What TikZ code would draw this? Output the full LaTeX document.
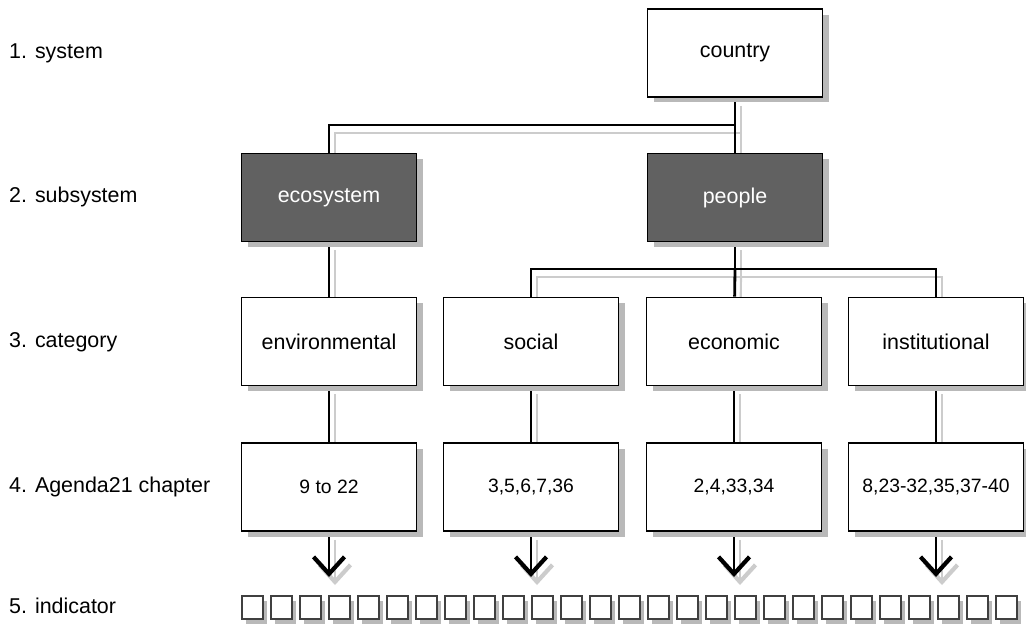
\documentclass[tikz,border=0pt]{standalone}
\usepackage{fontspec}
\setmainfont{Liberation Sans}
\usetikzlibrary{shadows,backgrounds,arrows.meta}

\tikzset{
  box/.style={draw, line width=0.9pt, fill=white, minimum width=3.5cm, minimum height=1.76cm,
    font=\fontsize{12.2}{14}\selectfont,
    drop shadow={shadow xshift=0.13cm, shadow yshift=-0.11cm, fill=gray!55, opacity=1}},
  dark/.style={box, fill=black!62, text=white},
  chap/.style={box, font=\fontsize{11}{13}\selectfont},
  ind/.style={draw=black!75, line width=0.8pt, fill=white, minimum width=0.42cm, minimum height=0.46cm,
    inner sep=0pt, drop shadow={shadow xshift=0.08cm, shadow yshift=-0.09cm, fill=gray!55, opacity=1}},
  level/.style={anchor=west, font=\fontsize{12.2}{14}\selectfont},
  conn/.style={line width=1.6pt, preaction={draw=gray!40, line width=1.2pt, transform canvas={shift={(6,8)}}}},
  arr/.style={-{Straight Barb[length=0.34cm, width=0.62cm, line width=2.4pt]}},
}

\begin{document}
\begin{tikzpicture}[x=0.02cm, y=-0.02cm]
  \useasboundingbox (0,0) rectangle (1026,626);

  \node[level] (l1) at (3,53) {1. system};
  \node[level] (l2) at (3,197) {2. subsystem};
  \node[level] (l3) at (3,342) {3. category};
  \node[level] (l4) at (3,487) {4. Agenda21 chapter};
  \node[level] (l5) at (3,606) {5. indicator};

  \node[box] (country) at (735,53) {country};

  \node[dark] (eco) at (329,197.5) {ecosystem};
  \node[dark] (people) at (735,197.5) {people};

  \node[box] (env) at (329,341.5) {environmental};
  \node[box] (soc) at (531,341.5) {social};
  \node[box] (econ) at (734,341.5) {economic};
  \node[box] (inst) at (936,341.5) {institutional};

  \node[chap] (c1) at (329,487) {9 to 22};
  \node[chap] (c2) at (531,487) {3,5,6,7,36};
  \node[chap] (c3) at (734,487) {2,4,33,34};
  \node[chap] (c4) at (936,487) {8,23-32,35,37-40};

  \foreach \i in {0,...,26}
    \node[ind] (s\i) at (252.5+29*\i, 607.5) {};

  \coordinate (j1) at (735,125);
  \coordinate (j2) at (735,269);
  \coordinate (t1) at (329,577);
  \coordinate (t2) at (531,577);
  \coordinate (t3) at (734,577);
  \coordinate (t4) at (936,577);

  \begin{scope}[on background layer]
    \draw[conn] (country) -- (j1) -| (eco);
    \draw[conn] (j1) -- (people);
    \draw[conn] (eco) -- (env);
    \draw[conn] (people) -- (j2);
    \draw[conn] (j2) -| (soc);
    \draw[conn] (j2) -- (econ);
    \draw[conn] (j2) -| (inst);

    \draw[conn] (env) -- (c1);
    \draw[conn] (soc) -- (c2);
    \draw[conn] (econ) -- (c3);
    \draw[conn] (inst) -- (c4);

    \draw[conn, arr] (c1) -- (t1);
    \draw[conn, arr] (c2) -- (t2);
    \draw[conn, arr] (c3) -- (t3);
    \draw[conn, arr] (c4) -- (t4);
  \end{scope}
\end{tikzpicture}
\end{document}
